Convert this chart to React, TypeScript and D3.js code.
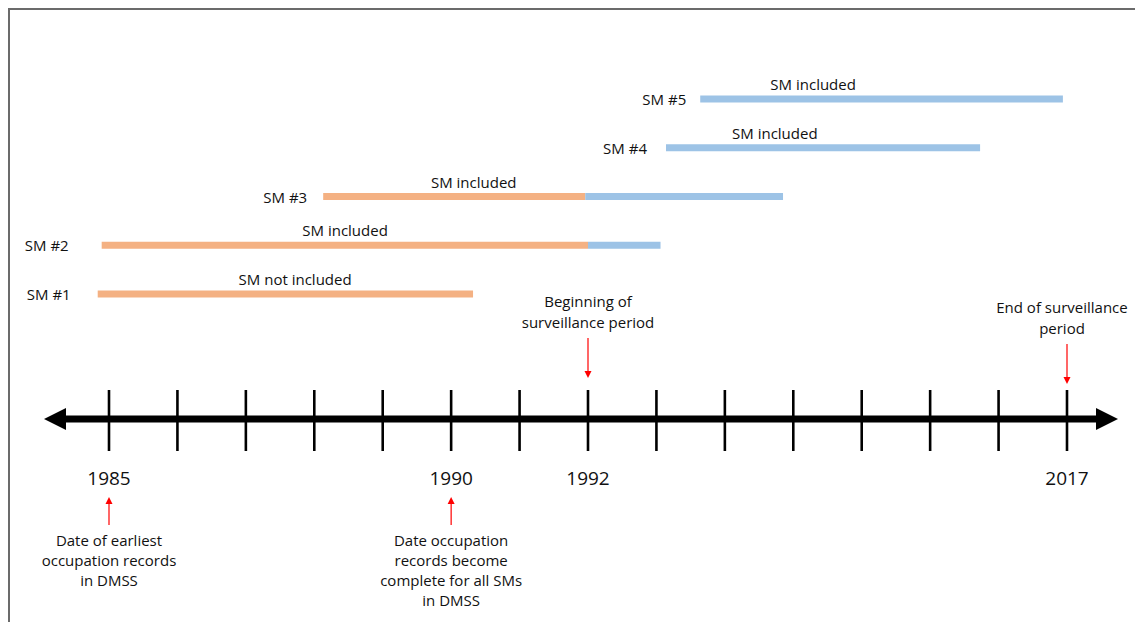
import React from 'react';
import * as d3 from 'd3';

// timeline ticks (schematic, not linear in years)
const tickLabels = ['1985', '', '', '', '', '1990', '', '1992', '', '', '', '', '', '', '2017'];

// service members: positions are in tick units along the timeline
const smNames = ['SM #1', 'SM #2', 'SM #3', 'SM #4', 'SM #5'];
const smStart = [-0.165, -0.107, 3.13, 8.14, 8.64];
const smOrangeEnd = [5.32, 7.0, 6.96, 8.14, 8.64];
const smEnd = [5.32, 8.06, 9.85, 12.73, 13.94];
const smCaptions = ['SM not included', 'SM included', 'SM included', 'SM included', 'SM included'];
const smCaptionAt = [2.72, 3.45, 5.33, 9.73, 10.29];

// annotations above / below the axis
const topNotesTick = [7, 14];
const topNotes = [
  ['Beginning of', 'surveillance period'],
  ['End of surveillance', 'period'],
];
const bottomNotesTick = [0, 5];
const bottomNotes = [
  ['Date of earliest', 'occupation records', 'in DMSS'],
  ['Date occupation', 'records become', 'complete for all SMs', 'in DMSS'],
];

const W = 1135;
const H = 614;
const FONT = "'Open Sans', sans-serif";
const ORANGE = '#F4B183';
const BLUE = '#9DC3E6';
const labelGap = [27, 33, 16, 19, 14];
const topNoteDx = [0, -5];
const topNoteY = [299, 305];

const App = () => {
  const x = d3.scaleLinear().domain([0, tickLabels.length - 1]).range([101, 1059]);
  const y = d3.scaleLinear().domain([0, smNames.length - 1]).range([286, 91]);
  const axisY = 411;

  const redArrow = (x0: number, yTail: number, yTip: number, key: string) => {
    const dir = yTip > yTail ? 1 : -1;
    return (
      <g key={key}>
        <line x1={x0} x2={x0} y1={yTail} y2={yTip - dir * 6} stroke="#ff0000" strokeWidth={1.2} />
        <path d={`M${x0 - 3.5},${yTip - dir * 7} L${x0 + 3.5},${yTip - dir * 7} L${x0},${yTip} Z`} fill="#ff0000" />
      </g>
    );
  };

  return (
    <svg width={W} height={H} style={{ display: 'block' }}>
      <rect width={W} height={H} fill="#ffffff" />
      {/* frame */}
      <line x1={0} x2={W} y1={1} y2={1} stroke="#6b6b6b" strokeWidth={2} />
      <line x1={1} x2={1} y1={0} y2={H} stroke="#6b6b6b" strokeWidth={2} />

      {/* SM bars */}
      {smNames.map((name, i) => (
        <g key={name}>
          {smOrangeEnd[i] > smStart[i] && (
            <line x1={x(smStart[i])} x2={x(smOrangeEnd[i])} y1={y(i)} y2={y(i)} stroke={ORANGE} strokeWidth={7} />
          )}
          {smEnd[i] > smOrangeEnd[i] && (
            <line x1={x(smOrangeEnd[i])} x2={x(smEnd[i])} y1={y(i)} y2={y(i)} stroke={BLUE} strokeWidth={7} />
          )}
          <text x={x(smStart[i]) - labelGap[i]} y={y(i) + 6} textAnchor="end" fontFamily={FONT} fontSize={15} fill="#111">
            {name}
          </text>
          <text x={x(smCaptionAt[i])} y={y(i) - 9} textAnchor="middle" fontFamily={FONT} fontSize={15} fill="#111">
            {smCaptions[i]}
          </text>
        </g>
      ))}

      {/* timeline axis */}
      <line x1={57} x2={1088} y1={axisY} y2={axisY} stroke="#000" strokeWidth={7} />
      <path d={`M36,${axisY} L58,${axisY - 11} L58,${axisY + 11} Z`} fill="#000" />
      <path d={`M1110,${axisY} L1088,${axisY - 11} L1088,${axisY + 11} Z`} fill="#000" />
      {tickLabels.map((lab, i) => (
        <g key={i}>
          <line x1={x(i)} x2={x(i)} y1={382} y2={443} stroke="#000" strokeWidth={2.6} />
          {lab && (
            <text x={x(i)} y={477} textAnchor="middle" fontFamily={FONT} fontSize={19} fill="#111">
              {lab}
            </text>
          )}
        </g>
      ))}

      {/* annotations above axis */}
      {topNotes.map((lines, k) => {
        const cx = x(topNotesTick[k]);
        return (
          <g key={'t' + k}>
            {lines.map((ln, j) => (
              <text key={j} x={cx + topNoteDx[k]} y={topNoteY[k] + j * 21} textAnchor="middle" fontFamily={FONT} fontSize={15} fill="#111">
                {ln}
              </text>
            ))}
            {redArrow(cx, topNoteY[k] + 31, topNoteY[k] + 71, 'ta' + k)}
          </g>
        );
      })}

      {/* annotations below axis */}
      {bottomNotes.map((lines, k) => {
        const cx = x(bottomNotesTick[k]);
        return (
          <g key={'b' + k}>
            {redArrow(cx, 517, 489, 'ba' + k)}
            {lines.map((ln, j) => (
              <text key={j} x={cx} y={538 + j * 20} textAnchor="middle" fontFamily={FONT} fontSize={15} fill="#111">
                {ln}
              </text>
            ))}
          </g>
        );
      })}
    </svg>
  );
};

export default App;
